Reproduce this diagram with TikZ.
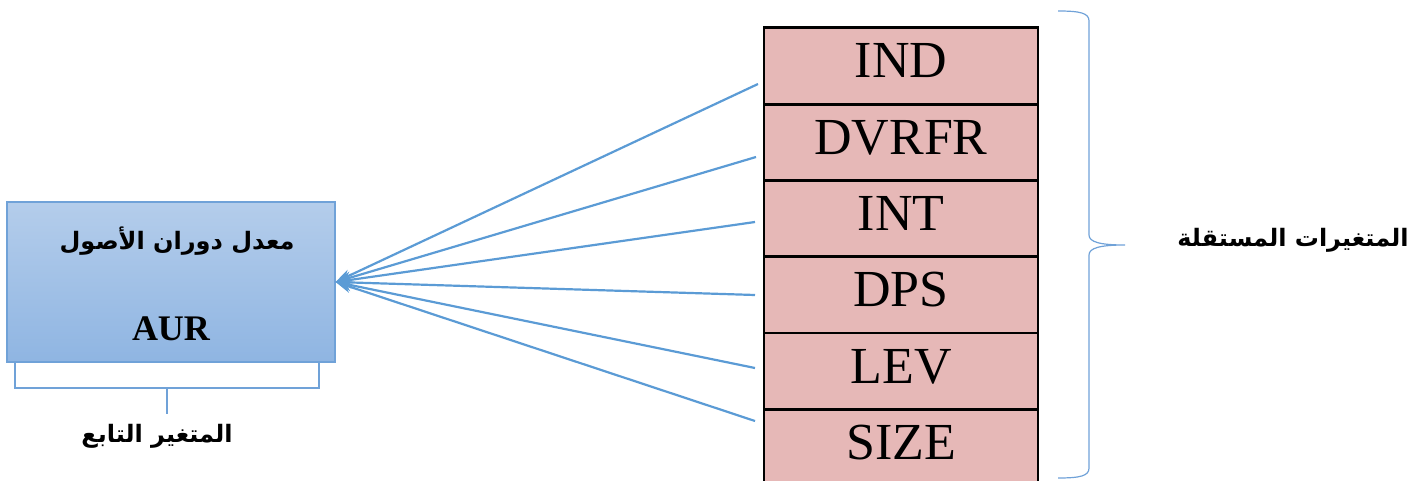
\documentclass[tikz,border=0pt]{standalone}
\usepackage{fontspec}
\setmainfont{Liberation Serif}
\newfontfamily\arabicfont[Script=Arabic]{DejaVu Sans}
\TeXXeTstate=1
\usetikzlibrary{arrows.meta}
\definecolor{pinkfill}{RGB}{230,184,183}
\definecolor{arrowblue}{RGB}{91,155,213}
\definecolor{boxtop}{RGB}{180,205,235}
\definecolor{boxbot}{RGB}{143,181,226}
\definecolor{boxline}{RGB}{112,162,216}
\tikzset{
  varbox/.style={draw=black, line width=2.8pt, fill=pinkfill, minimum width=274pt, minimum height=76.3pt, inner sep=0pt, text height=36pt, text depth=12pt, font=\fontsize{52}{52}\selectfont},
  conn/.style={draw=arrowblue, line width=2.2pt, -{Stealth[length=16pt,width=12pt]}},
  bluethin/.style={draw=boxline, line width=1.2pt},
  artext/.style={font=\arabicfont\bfseries\fontsize{24}{28}\selectfont, inner sep=0pt},
}
\begin{document}
\begin{tikzpicture}[x=1pt,y=-1pt]
\useasboundingbox (0,0) rectangle (1421,481);
% right column of variables
\node[varbox] (ind)   at (901,66)  {IND};
\node[varbox] (dvrfr) at (901,142.3) {DVRFR};
\node[varbox] (int)   at (901,218.6) {INT};
\node[varbox] (dps)   at (901,294.9) {DPS};
\node[varbox] (lev)   at (901,371.2) {LEV};
\node[varbox] (size)  at (901,447.5) {SIZE};
% dependent variable box
\node[bluethin, top color=boxtop, bottom color=boxbot, minimum width=328pt, minimum height=160pt, inner sep=0pt] (aur) at (171,282) {};
\node[artext] (artitle) at (177,241) {\beginR معدل دوران الأصول\endR};
\node[font=\bfseries\fontsize{36}{36}\selectfont, inner sep=0pt] (aurtxt) at (171,329) {AUR};
% connectors
\coordinate (s1) at (758,84);
\coordinate (s2) at (756,157);
\coordinate (s3) at (755,222);
\coordinate (s4) at (755,295);
\coordinate (s5) at (755,368);
\coordinate (s6) at (755,421);
\foreach \s in {s1,s2,s3,s4,s5,s6} \draw[conn] (\s) -- (aur.east);
% bracket under dependent box
\coordinate (bl) at (15,362);
\coordinate (br) at (319,362);
\coordinate (stem) at (167,388);
\coordinate (stemend) at (167,414);
\draw[bluethin] (bl) |- (br |- stem) -- (br);
\draw[bluethin] (stem) -- (stemend);
\node[artext] (dep) at (157,436) {\beginR المتغير التابع\endR};
% brace for independent variables
\coordinate (btip) at (1125,245);
\draw[bluethin] (1058,11) .. controls (1080,11) and (1089,13) .. (1089,21) -- (1089,235)
  .. controls (1089,242) and (1100,245) .. (btip)
  .. controls (1100,245) and (1089,248) .. (1089,255) -- (1089,468)
  .. controls (1089,476) and (1080,478) .. (1058,478);
\node[artext] (indep) at (1293,240) {\beginR المتغيرات المستقلة\endR};
\end{tikzpicture}
\end{document}
